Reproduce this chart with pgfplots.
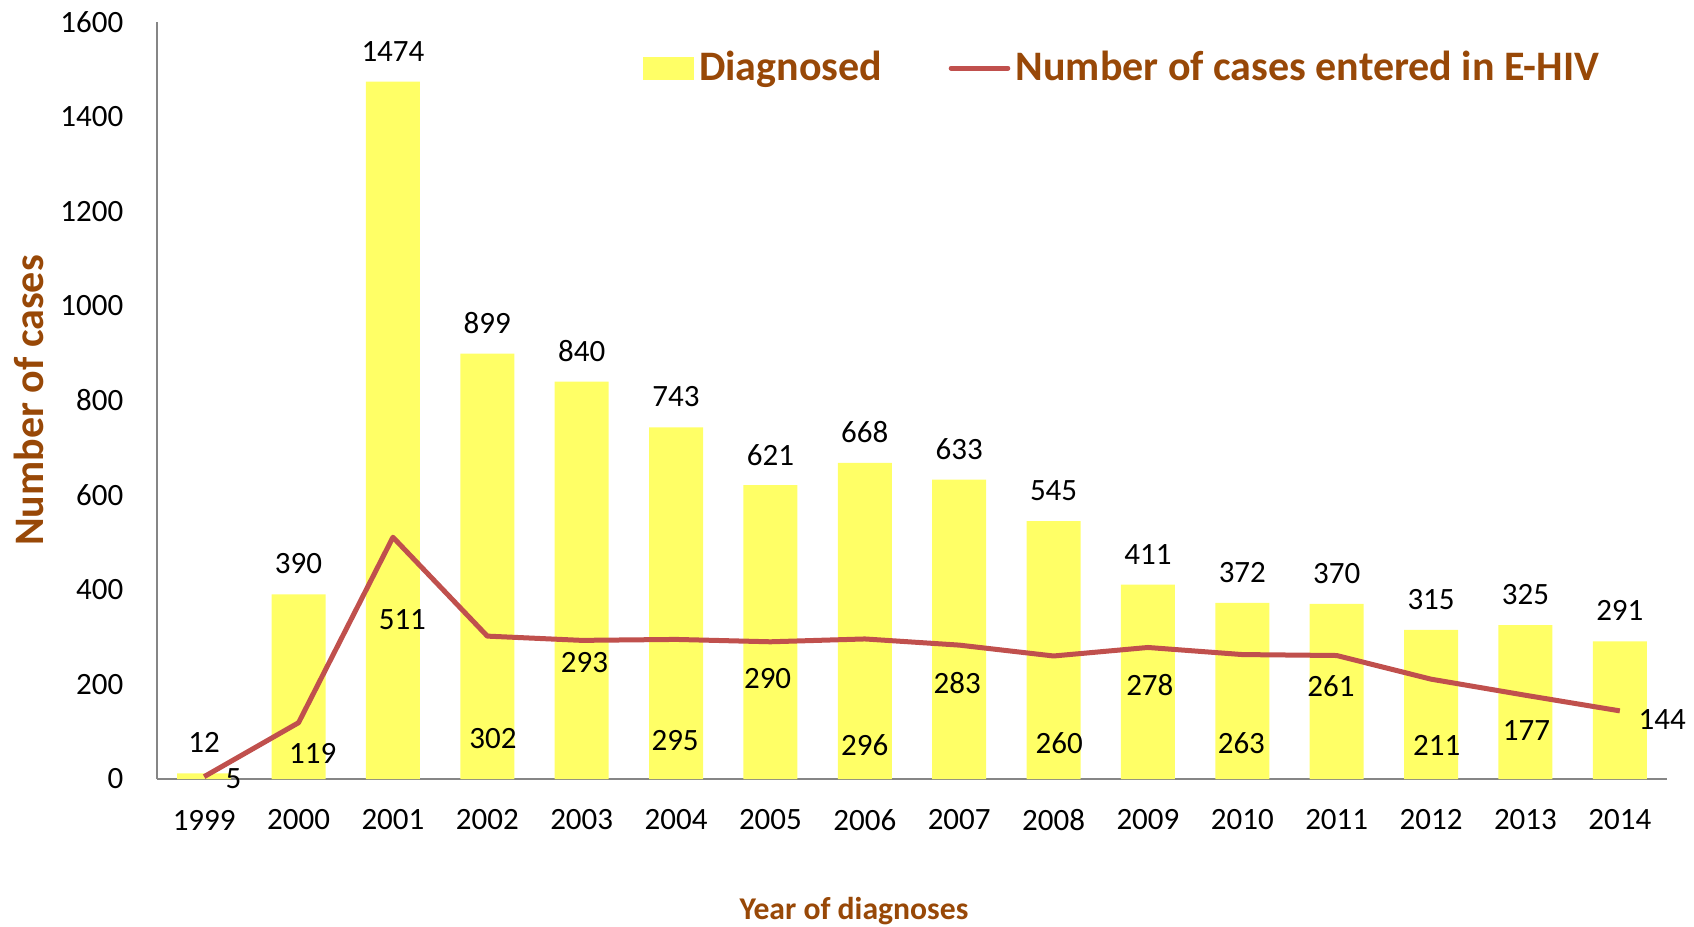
\documentclass[border=0pt]{standalone}
\usepackage{pgfplots}
\pgfplotsset{compat=1.18}
\usepackage{pgfplotstable}
\usepackage{fontspec}
\setmainfont{Carlito}
\definecolor{barY}{HTML}{FFFF66}
\definecolor{lineR}{HTML}{C0504D}
\definecolor{brn}{HTML}{984807}
\definecolor{axG}{HTML}{868686}

% diagnosed cases per year (index 0 = 1999)
\pgfplotstableread{
x diag
0 12
1 390
2 1474
3 899
4 840
5 743
6 621
7 668
8 633
9 545
10 411
11 372
12 370
13 315
14 325
15 291
}\diagtab

% cases entered in E-HIV
\pgfplotstableread{
x entered
0 5
1 119
2 511
3 302
4 293
5 295
6 290
7 296
8 283
9 260
10 278
11 263
12 261
13 211
14 177
15 144
}\enteredtab

% where the line's value labels sit in the original
\pgfplotstableread{
x y lab
0.31 0 5
1.15 55 119
2.10 336 511
3.06 85 302
4.03 247 293
4.99 82 295
5.97 212 290
7.00 71 296
7.98 203 283
9.06 75 260
10.02 199 278
10.99 75 263
11.94 196 261
13.06 71 211
14.01 103 177
15.45 126 144
}\labtab

\newcommand{\lblfont}{\fontsize{9.3}{11}\selectfont}

\begin{document}
\begin{tikzpicture}
\begin{axis}[
  scale only axis, width=453pt, height=227.1pt,
  xmin=-0.5, xmax=15.5, ymin=0, ymax=1600,
  axis x line*=bottom, axis y line*=left,
  axis line style={axG, line width=0.6pt},
  major tick length=0pt,
  xtick={0,...,15},
  xticklabels={1999,2000,2001,2002,2003,2004,2005,2006,2007,2008,2009,2010,2011,2012,2013,2014},
  ytick={0,200,...,1600},
  /pgf/number format/assume math mode=true,
  /pgf/number format/1000 sep={},
  tick label style={font=\lblfont, inner sep=0pt},
  xticklabel style={anchor=center, yshift=-12.3pt},
  yticklabel style={anchor=east, xshift=-9.9pt},
  clip=false,
  xlabel={Year of diagnoses},
  ylabel={Number of cases},
  xlabel style={at={(axis description cs:0.4616,-0.1744)}, anchor=center,
    font=\bfseries\fontsize{9.5}{11}\selectfont, text=brn},
  ylabel style={at={(axis description cs:-0.0848,0.5)}, anchor=center,
    font=\bfseries\fontsize{12.6}{14}\selectfont, text=brn},
  legend columns=2,
  legend style={at={(axis description cs:0.3212,0.939)}, anchor=west,
    draw=none, fill=none, inner sep=0pt,
    font=\bfseries\fontsize{12.6}{14}\selectfont, text=brn,
    nodes={inner sep=0pt},
    /tikz/every odd column/.append style={column sep=1.6pt},
    /tikz/every even column/.append style={column sep=20pt}},
]
\addplot[ybar, bar width=16.2pt, bar shift=0pt, fill=barY, draw=none,
  nodes near coords,
  nodes near coords style={anchor=center, yshift=9.15pt, font=\lblfont, text=black, inner sep=0pt},
  legend image code/.code={\fill[barY] (0pt,-3.45pt) rectangle (15.3pt,3.45pt);}]
  table[x=x, y=diag] {\diagtab};
\addlegendentry{Diagnosed}
\addplot[lineR, line width=1.5pt, mark=none, line join=round,
  legend image code/.code={\draw[lineR, line width=1.5pt, line cap=round] (0pt,0pt) -- (17pt,0pt);}]
  table[x=x, y=entered] {\enteredtab};
\addlegendentry{Number of cases entered in E-HIV}
\addplot[forget plot, only marks, mark=text, text mark={},
  nodes near coords, point meta=explicit symbolic,
  nodes near coords style={anchor=center, font=\lblfont, text=black, inner sep=0pt}]
  table[x=x, y=y, meta=lab] {\labtab};
\coordinate (BL) at (rel axis cs:0,0);
\end{axis}
\pgfresetboundingbox
\path ([shift={(-47.1pt,-44.4pt)}]BL) rectangle ([shift={(461.1pt,233.7pt)}]BL);
\end{tikzpicture}
\end{document}
